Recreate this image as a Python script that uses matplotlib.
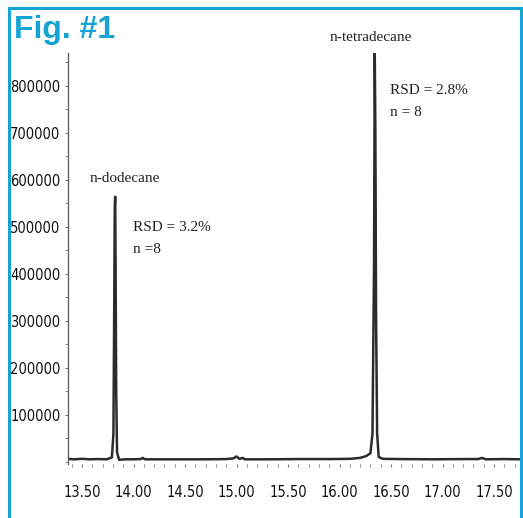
import matplotlib.pyplot as plt
from matplotlib.ticker import MultipleLocator, FuncFormatter
from matplotlib.patches import Rectangle

# chromatogram trace, retention time (min) vs detector response
time_min = [13.36, 13.42, 13.50, 13.58, 13.66, 13.74, 13.79, 13.805, 13.812, 13.818,
            13.822, 13.826, 13.832, 13.84, 13.86, 13.92, 14.00, 14.07, 14.09, 14.11,
            14.30, 14.50, 14.70, 14.90, 14.97, 15.00, 15.03, 15.06, 15.08, 15.10,
            15.30, 15.60, 15.90, 16.10, 16.20, 16.26, 16.30, 16.32, 16.335, 16.342,
            16.348, 16.355, 16.365, 16.38, 16.42, 16.60, 16.90, 17.20, 17.35, 17.38,
            17.42, 17.60, 17.75]
response = [6000, 5000, 6000, 5000, 5500, 5000, 9000, 60000, 300000, 540000,
            564000, 420000, 150000, 20000, 4000, 5000, 5000, 5500, 8000, 5000,
            5000, 5000, 5000, 5500, 7000, 11000, 6000, 8000, 5000, 5000,
            5000, 5500, 5500, 6000, 8000, 12000, 18000, 60000, 420000, 870000,
            700000, 300000, 60000, 10000, 6000, 5500, 5000, 5500, 5500, 8000,
            5000, 5500, 5000]

x_ticks = [13.50, 14.00, 14.50, 15.00, 15.50, 16.00, 16.50, 17.00, 17.50]
y_ticks = [100000, 200000, 300000, 400000, 500000, 600000, 700000, 800000]

# peak labels: (time, response, text)
peak_names = [(13.92, 590000, 'n-dodecane'), (16.30, 890000, 'n-tetradecane')]
peak_stats = [(13.995, 512000, 'RSD = 3.2%\nn =8'), (16.49, 805000, 'RSD = 2.8%\nn = 8')]

blue = '#14a3d4'
tick_font = ['Liberation Sans Narrow', 'DejaVu Sans']

fig = plt.figure(figsize=(5.23, 5.18), dpi=100)

# blue frame around the figure (open at the bottom)
fig.add_artist(Rectangle((8.5 / 523, -0.1), 512 / 523, 1.1 - 8.5 / 518,
                         transform=fig.transFigure, fill=False,
                         edgecolor=blue, linewidth=2.2))
fig.text(14 / 523, 1 - 30 / 518, 'Fig. #1', color=blue, fontsize=23,
         fontweight='bold', family='Liberation Sans', va='center', ha='left')

ax = fig.add_axes([68 / 523, 1 - 464 / 518, 452 / 523, 411 / 518])
ax.plot(time_min, response, color='#2b2b2b', linewidth=1.8)

ax.set_xlim(13.364, 17.752)
ax.set_ylim(-5000, 870000)

ax.spines['top'].set_visible(False)
ax.spines['right'].set_visible(False)
ax.spines['bottom'].set_visible(False)
ax.spines['left'].set_color('#555555')
ax.spines['left'].set_linewidth(0.9)

ax.set_xticks(x_ticks)
ax.xaxis.set_minor_locator(MultipleLocator(0.1))
ax.set_yticks(y_ticks)
ax.yaxis.set_minor_locator(MultipleLocator(50000))
ax.xaxis.set_major_formatter(FuncFormatter(lambda v, p: f'{v:.2f}'))
ax.yaxis.set_major_formatter(FuncFormatter(lambda v, p: f'{v:.0f}'))

ax.tick_params(axis='x', which='both', direction='out', length=2, color='#777777',
               pad=13)
ax.tick_params(axis='y', which='both', direction='out', length=2, color='#777777',
               pad=3.5)
for lab in ax.get_xticklabels() + ax.get_yticklabels():
    lab.set_family(tick_font)
    lab.set_stretch('condensed')
    lab.set_fontsize(10.5)
    lab.set_color('#111111')

for t, r, s in peak_names:
    ax.text(t, r, s, family='Liberation Serif', fontsize=11, ha='center',
            va='bottom', color='#222222')
for t, r, s in peak_stats:
    ax.text(t, r, s, family='Liberation Serif', fontsize=11, ha='left',
            va='top', color='#222222', linespacing=1.9)

fig.savefig('out.png', dpi=100)
